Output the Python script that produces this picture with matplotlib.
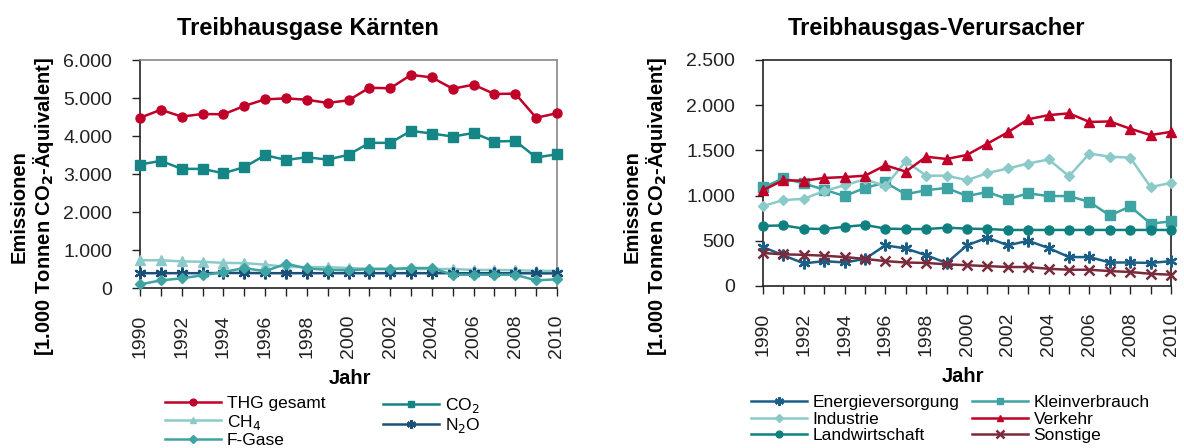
import matplotlib
matplotlib.use("Agg")
import matplotlib.pyplot as plt
from matplotlib.ticker import FuncFormatter, MultipleLocator

plt.rcParams['font.family'] = ['Liberation Sans', 'DejaVu Sans']

years = list(range(1990, 2011))

# Left chart: Treibhausgase Kärnten
thg_gesamt = [4480, 4690, 4510, 4580, 4570, 4790, 4965, 4990, 4955, 4870, 4940,
              5270, 5255, 5610, 5540, 5245, 5350, 5105, 5115, 4480, 4600]
co2 = [3250, 3345, 3135, 3135, 3020, 3180, 3495, 3370, 3440, 3380, 3505,
       3820, 3820, 4135, 4065, 3985, 4080, 3855, 3870, 3435, 3520]
ch4 = [730, 730, 700, 690, 660, 655, 615, 555, 550, 550, 525,
       505, 500, 500, 500, 500, 475, 475, 470, 450, 450]
n2o = [390, 390, 390, 390, 395, 395, 390, 390, 390, 390, 390,
       390, 390, 390, 390, 390, 390, 390, 390, 385, 385]
f_gase = [95, 200, 255, 335, 420, 525, 440, 640, 515, 480, 465,
          500, 500, 525, 525, 350, 350, 350, 350, 200, 230]

# Right chart: Treibhausgas-Verursacher
energieversorgung = [430, 340, 250, 275, 260, 300, 450, 415, 340, 255, 450,
                     535, 450, 500, 420, 320, 320, 260, 260, 255, 275]
kleinverbrauch = [1090, 1190, 1135, 1065, 995, 1085, 1145, 1015, 1060, 1085, 995,
                  1040, 960, 1025, 995, 995, 930, 780, 880, 690, 715]
industrie = [885, 950, 965, 1050, 1115, 1180, 1105, 1380, 1220, 1220, 1170,
             1250, 1300, 1355, 1400, 1215, 1465, 1430, 1420, 1095, 1140]
verkehr = [1060, 1170, 1165, 1195, 1205, 1220, 1335, 1265, 1430, 1405, 1450,
           1575, 1700, 1845, 1890, 1910, 1815, 1820, 1740, 1670, 1705]
landwirtschaft = [665, 670, 635, 630, 655, 675, 635, 630, 630, 645, 635,
                  630, 620, 620, 620, 620, 620, 620, 620, 620, 620]
sonstige = [365, 350, 345, 335, 320, 300, 275, 260, 255, 240, 230,
            220, 210, 210, 190, 180, 180, 165, 155, 135, 125]

RED = '#C00028'
TEAL = '#168585'
LTEAL = '#8CCACA'
MTEAL = '#3EA3A3'
DBLUE = '#1B4F78'
MAROON = '#7A2B3B'

fig = plt.figure(figsize=(11.84, 4.48), dpi=100)

ax1 = fig.add_axes([140/1184, 1-288/448, 417/1184, 228/448])
ax2 = fig.add_axes([763/1184, 1-286/448, 408/1184, 226/448])

lw = 1.8
ms = 6.5
def plot(ax, y, color, marker, label, msz=ms, mew=1.0):
    return ax.plot(years, y, color=color, lw=lw, marker=marker, markersize=msz,
                   markeredgewidth=mew, markeredgecolor=color, label=label,
                   clip_on=False, zorder=3)[0]

h_thg = plot(ax1, thg_gesamt, RED, 'o', 'THG gesamt')
h_co2 = plot(ax1, co2, TEAL, 's', 'CO$_2$')
h_ch4 = plot(ax1, ch4, LTEAL, '^', 'CH$_4$')
h_n2o = plot(ax1, n2o, DBLUE, (6, 2, 0), 'N$_2$O', msz=8.5, mew=1.6)
h_fg = plot(ax1, f_gase, MTEAL, 'D', 'F-Gase', msz=5.5)

h_en = plot(ax2, energieversorgung, '#1B5E86', (6, 2, 0), 'Energieversorgung', msz=8.5, mew=1.6)
h_kl = plot(ax2, kleinverbrauch, MTEAL, 's', 'Kleinverbrauch')
h_in = plot(ax2, industrie, LTEAL, 'D', 'Industrie', msz=5.5)
h_ve = plot(ax2, verkehr, RED, '^', 'Verkehr')
h_la = plot(ax2, landwirtschaft, '#0F8080', 'o', 'Landwirtschaft')
h_so = plot(ax2, sonstige, MAROON, 'x', 'Sonstige', msz=7, mew=1.8)

fmt = FuncFormatter(lambda v, p: f"{int(round(v)):,}".replace(",", "."))
for ax, ymax, step in ((ax1, 6000, 1000), (ax2, 2500, 500)):
    ax.set_xlim(1990, 2010)
    ax.set_ylim(0, ymax)
    ax.yaxis.set_major_locator(MultipleLocator(step))
    ax.yaxis.set_major_formatter(fmt)
    ax.set_xticks(years)
    ax.set_xticklabels([str(y) if y % 2 == 0 else '' for y in years], rotation=90)
    ax.tick_params(axis='both', direction='out', length=6, width=1, labelsize=14,
                   colors='#222222')
    ax.tick_params(axis='y', pad=14)
    ax.tick_params(axis='x', pad=13)
    for s in ax.spines.values():
        s.set_color('#222222')
        s.set_linewidth(1.2)

for s in ('top', 'right'):
    ax1.spines[s].set_color('#888888')

# Titles
fig.text(308/1184, 1-28/448, 'Treibhausgase Kärnten', ha='center', va='center',
         fontsize=17, fontweight='bold')
fig.text(937/1184, 1-28/448, 'Treibhausgas-Verursacher', ha='center', va='center',
         fontsize=17, fontweight='bold')

ylab = 'Emissionen\n[1.000 Tonnen CO$_\\mathbf{2}$-Äquivalent]'
fig.text(33/1184, 1-207/448, ylab, rotation=90, ha='center', va='center',
         multialignment='center', fontsize=14.5, fontweight='bold', linespacing=1.15)
fig.text(646/1184, 1-207/448, ylab, rotation=90, ha='center', va='center',
         multialignment='center', fontsize=14.5, fontweight='bold', linespacing=1.15)

fig.text(350/1184, 1-378/448, 'Jahr', ha='center', va='center', fontsize=14.5,
         fontweight='bold')
fig.text(963/1184, 1-376/448, 'Jahr', ha='center', va='center', fontsize=14.5,
         fontweight='bold')

leg_kw = dict(frameon=False, fontsize=12.5, handlelength=3.2, handletextpad=0.35,
              labelspacing=0.08, borderpad=0, borderaxespad=0, loc='upper left')

def legend(handles, x, y):
    lg = fig.legend(handles=handles, bbox_to_anchor=(x/1184, 1-y/448), **leg_kw)
    for h in lg.legend_handles:
        h.set_markersize(h.get_markersize() * 0.75)
    return lg

legend([h_thg, h_ch4, h_fg], 165, 396)
legend([h_co2, h_n2o], 383, 396)
legend([h_en, h_in, h_la], 751, 395)
legend([h_kl, h_ve, h_so], 972, 395)

fig.savefig('out.png', dpi=100)
